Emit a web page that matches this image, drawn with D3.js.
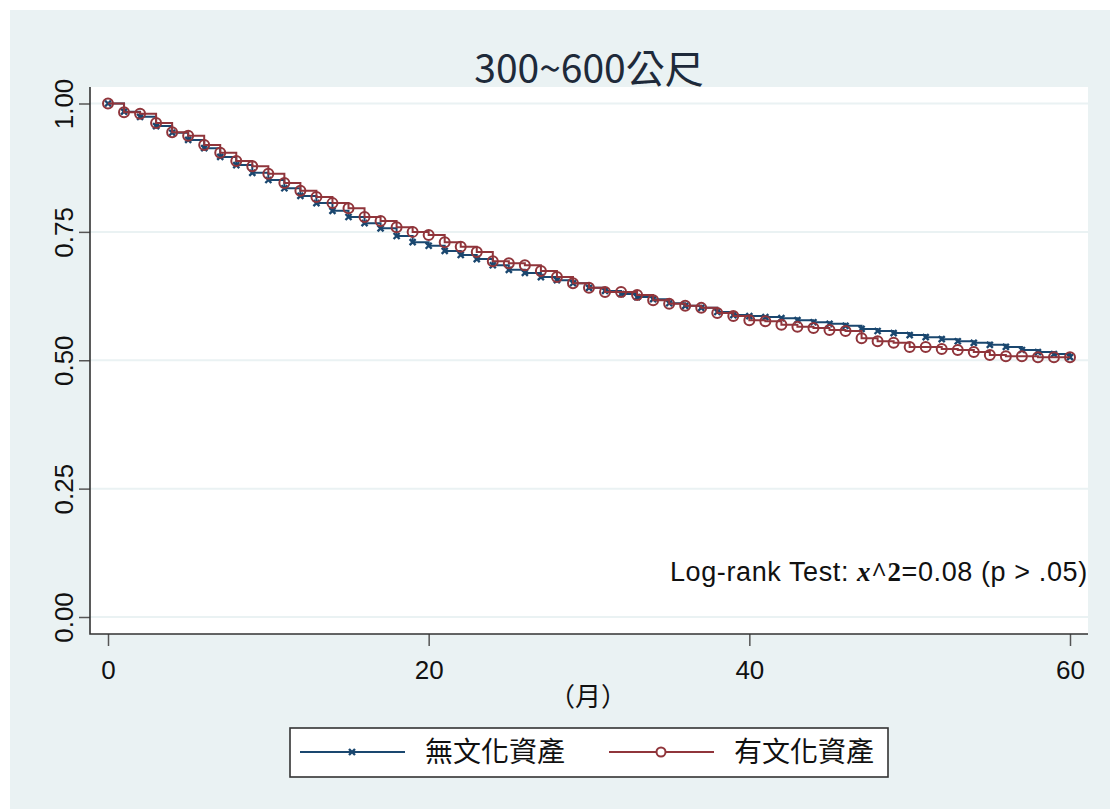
<!DOCTYPE html>
<html>
<head>
<meta charset="utf-8">
<script src="https://cdn.jsdelivr.net/npm/d3@7"></script>
<style>
  html, body { margin: 0; padding: 0; background: #ffffff; }
  svg { display: block; }
</style>
</head>
<body>
<svg id="chart" width="1110" height="809"></svg>
<script>
// Survival estimates by month (0..60)
const months = d3.range(0, 61);
const survNone = [
  1.000, 0.984, 0.974, 0.956, 0.943, 0.929, 0.913, 0.896, 0.880, 0.865,
  0.851, 0.835, 0.820, 0.806, 0.791, 0.779, 0.767, 0.757, 0.742, 0.730,
  0.723, 0.713, 0.705, 0.697, 0.685, 0.676, 0.670, 0.662, 0.656, 0.650,
  0.641, 0.635, 0.629, 0.623, 0.619, 0.611, 0.606, 0.602, 0.594, 0.588,
  0.586, 0.584, 0.582, 0.578, 0.574, 0.571, 0.567, 0.561, 0.557, 0.553,
  0.549, 0.545, 0.541, 0.537, 0.534, 0.530, 0.526, 0.520, 0.516, 0.512,
  0.506
];
const survHeritage = [
  1.000, 0.983, 0.980, 0.962, 0.944, 0.937, 0.919, 0.904, 0.888, 0.878,
  0.863, 0.845, 0.830, 0.818, 0.806, 0.796, 0.779, 0.771, 0.759, 0.750,
  0.744, 0.730, 0.721, 0.711, 0.693, 0.689, 0.685, 0.674, 0.662, 0.650,
  0.641, 0.633, 0.633, 0.627, 0.617, 0.610, 0.606, 0.602, 0.592, 0.586,
  0.578, 0.576, 0.569, 0.565, 0.563, 0.559, 0.557, 0.543, 0.537, 0.534,
  0.526, 0.526, 0.522, 0.520, 0.516, 0.510, 0.508, 0.508, 0.506, 0.506,
  0.506
];
const xTicks = [0, 20, 40, 60];
const yTicks = [0, 0.25, 0.5, 0.75, 1];
const seriesNames = ["無文化資產", "有文化資產"];
const titleText = "300~600公尺";
const xTitle = "（月）";

const COL_BG = "#eaf2f3";
const COL_NONE = "#1a476f";
const COL_HER = "#90353b";
const LATIN = "'Liberation Sans', Arial, sans-serif";
const CJK = "'Noto Sans CJK TC', 'Liberation Sans', sans-serif";

const svg = d3.select("#chart");

// outer graph region
svg.append("rect").attr("x", 10).attr("y", 10).attr("width", 1100).attr("height", 799)
  .attr("fill", COL_BG);

const plot = { left: 90, right: 1088, top: 87, bottom: 634 };
svg.append("rect").attr("x", plot.left).attr("y", plot.top)
  .attr("width", plot.right - plot.left).attr("height", plot.bottom - plot.top)
  .attr("fill", "#ffffff");

const x = d3.scaleLinear().domain([0, 60]).range([108, 1070]);
const y = d3.scaleLinear().domain([0, 1]).range([617, 103.5]);

// gridlines
svg.append("g").selectAll("line").data(yTicks).join("line")
  .attr("x1", plot.left).attr("x2", plot.right)
  .attr("y1", d => y(d)).attr("y2", d => y(d))
  .attr("stroke", COL_BG).attr("stroke-width", 2);

// axes
const yAxis = d3.axisLeft(y).tickValues(yTicks).tickFormat(d3.format(".2f")).tickSize(11).tickSizeOuter(0);
const gy = svg.append("g").attr("transform", `translate(${plot.left},0)`).call(yAxis);
gy.select(".domain").remove();
gy.selectAll(".tick line").attr("stroke", "#555").attr("stroke-width", 1.5);
gy.selectAll(".tick text").attr("font-family", LATIN).attr("font-size", 26).attr("fill", "#111")
  .attr("text-anchor", "middle").attr("dy", null).attr("x", null)
  .attr("transform", "translate(-17,0) rotate(-90)");

const xAxis = d3.axisBottom(x).tickValues(xTicks).tickFormat(d3.format("d")).tickSize(12).tickSizeOuter(0);
const gx = svg.append("g").attr("transform", `translate(0,${plot.bottom})`).call(xAxis);
gx.select(".domain").remove();
gx.selectAll(".tick line").attr("stroke", "#555").attr("stroke-width", 1.5);
gx.selectAll(".tick text").attr("font-family", LATIN).attr("font-size", 26).attr("fill", "#111")
  .attr("y", 45).attr("dy", null);

svg.append("path")
  .attr("d", `M${plot.left},${plot.top}V${plot.bottom}H${plot.right}`)
  .attr("fill", "none").attr("stroke", "#333").attr("stroke-width", 1.6);

// survival step curves
const step = d3.line().curve(d3.curveStepAfter).x((d, i) => x(months[i])).y(d => y(d));

function drawX(g, cx, cy, s, color) {
  g.append("path")
    .attr("d", `M${cx - s},${cy - s}L${cx + s},${cy + s}M${cx - s},${cy + s}L${cx + s},${cy - s}`)
    .attr("stroke", color).attr("stroke-width", 2.4).attr("fill", "none");
}

const gNone = svg.append("g");
gNone.append("path").attr("d", step(survNone)).attr("fill", "none")
  .attr("stroke", COL_NONE).attr("stroke-width", 2);
survNone.forEach((v, i) => drawX(gNone, x(months[i]), y(v), 3, COL_NONE));

const gHer = svg.append("g");
gHer.append("path").attr("d", step(survHeritage)).attr("fill", "none")
  .attr("stroke", COL_HER).attr("stroke-width", 2);
gHer.selectAll("circle").data(survHeritage).join("circle")
  .attr("cx", (d, i) => x(months[i])).attr("cy", d => y(d)).attr("r", 5)
  .attr("fill", "none").attr("stroke", COL_HER).attr("stroke-width", 2);

// title
svg.append("text").attr("x", 589).attr("y", 83).attr("text-anchor", "middle")
  .attr("font-family", CJK).attr("font-size", 39).attr("fill", "#1e2a3a").text(titleText);

// x axis title
svg.append("text").attr("x", 588).attr("y", 706).attr("text-anchor", "middle")
  .attr("font-family", CJK).attr("font-size", 26).attr("fill", "#111").text(xTitle);

// test annotation
const note = svg.append("text").attr("x", 670).attr("y", 581)
  .attr("font-family", LATIN).attr("font-size", 27).attr("letter-spacing", 0.6)
  .attr("fill", "#111");
note.append("tspan").text("Log-rank Test: ");
note.append("tspan").attr("font-family", "'Liberation Serif', serif").attr("font-style", "italic")
  .attr("font-weight", "bold").text("x");
note.append("tspan").attr("font-weight", "bold").attr("font-family", "'Liberation Serif', serif").text("^2");
note.append("tspan").text("=0.08 (p > .05)");

// legend
const lg = svg.append("g");
lg.append("rect").attr("x", 290).attr("y", 728).attr("width", 598).attr("height", 49)
  .attr("fill", "#ffffff").attr("stroke", "#333").attr("stroke-width", 1.6);
const legendItems = [
  { name: seriesNames[0], color: COL_NONE, x0: 300, marker: "x" },
  { name: seriesNames[1], color: COL_HER, x0: 609, marker: "o" }
];
legendItems.forEach(it => {
  const ly = 752;
  lg.append("line").attr("x1", it.x0).attr("x2", it.x0 + 105).attr("y1", ly).attr("y2", ly)
    .attr("stroke", it.color).attr("stroke-width", 2);
  if (it.marker === "x") drawX(lg, it.x0 + 52, ly, 3, it.color);
  else lg.append("circle").attr("cx", it.x0 + 52).attr("cy", ly).attr("r", 4.5)
    .attr("fill", "#fff").attr("stroke", it.color).attr("stroke-width", 2);
  lg.append("text").attr("x", it.x0 + 125).attr("y", ly + 10)
    .attr("font-family", CJK).attr("font-size", 28).attr("fill", "#111").text(it.name);
});
</script>
</body>
</html>
